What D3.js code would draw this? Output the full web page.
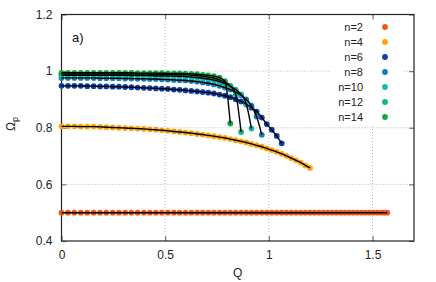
<!DOCTYPE html>
<html>
<head>
<meta charset="utf-8">
<script src="https://cdn.jsdelivr.net/npm/d3@7"></script>
<style>
  body { margin: 0; background: #fff; }
  svg { display: block; font-family: "Liberation Sans", Arial, sans-serif; }
</style>
</head>
<body>
<div id="chart"></div>
<script>
/**********************/
/******* data         */
/**********************/

// Q values of the sampled points (shared by all series)
const qGrid = [0, .031, .062, .093, .124, .155, .186, .216, .247, .277,
    .307, .337, .367, .397, .426, .455, .484, .513, .542, .570,
    .598, .626, .654, .681, .708, .735, .762, .788, .814, .840,
    .866, .891, .916, .941, .966, .990, 1.014, 1.038, 1.062, 1.085,
    1.108, 1.131, 1.154, 1.176, 1.198, 1.220, 1.242, 1.263, 1.284, 1.305,
    1.326, 1.347, 1.367, 1.387, 1.407, 1.427, 1.447, 1.466, 1.485, 1.504,
    1.523, 1.542, 1.557, 1.571];

const omegaN2 = [.5, .5, .5, .5, .5, .5, .5, .5, .5, .5,
    .5, .5, .5, .5, .5, .5, .5, .5, .5, .5,
    .5, .5, .5, .5, .5, .5, .5, .5, .5, .5,
    .5, .5, .5, .5, .5, .5, .5, .5, .5, .5,
    .5, .5, .5, .5, .5, .5, .5, .5, .5, .5,
    .5, .5, .5, .5, .5, .5, .5, .5, .5, .5,
    .5, .5, .5, .5];

const omegaN4 = [.805, .805, .805, .804, .804, .804, .803, .802, .801, .800,
    .799, .798, .797, .796, .794, .793, .791, .789, .787, .785,
    .783, .781, .778, .776, .773, .770, .767, .764, .760, .756,
    .752, .748, .743, .738, .733, .727, .721, .715, .708, .701,
    .693, .685, .677, .667, .658];

const omegaN6 = [.948, .948, .948, .948, .947, .947, .946, .946, .945, .945,
    .944, .943, .942, .941, .940, .939, .938, .937, .935, .934,
    .932, .930, .928, .926, .924, .921, .917, .913, .908, .901,
    .893, .883, .871, .857, .836, .813, .793, .771, .745];

const omegaN8 = [.976, .976, .976, .976, .976, .976, .975, .975, .975, .975,
    .974, .974, .973, .973, .972, .972, .971, .970, .969, .968,
    .967, .965, .963, .960, .957, .953, .948, .942, .935, .926,
    .915, .900, .878, .840, .775];

const omegaN10 = [.985, .985, .985, .985, .985, .985, .985, .985, .985, .985,
    .985, .984, .984, .984, .984, .983, .983, .983, .982, .982,
    .981, .979, .977, .975, .972, .968, .963, .956, .947, .935,
    .918, .885, .797];

const omegaN12 = [.990, .990, .990, .990, .990, .990, .990, .990, .990, .990,
    .990, .990, .990, .990, .989, .989, .989, .988, .988, .988,
    .987, .986, .984, .982, .979, .975, .969, .961, .948, .918,
    .785];

const omegaN14 = [.994, .994, .994, .994, .994, .994, .994, .994, .994, .994,
    .994, .994, .993, .993, .993, .993, .993, .992, .992, .992,
    .991, .990, .989, .987, .985, .982, .977, .965, .815];

const seriesNames = ["n=2", "n=4", "n=6", "n=8", "n=10", "n=12", "n=14"];
const seriesOmega = [omegaN2, omegaN4, omegaN6, omegaN8, omegaN10, omegaN12, omegaN14];
const seriesColors = ["#f4541c", "#ffa40c", "#0c3fa8", "#1580b4", "#1ab4b4", "#14b680", "#14a83e"];

const xTicks = [0, 0.5, 1, 1.5];
const yTicks = [0.4, 0.6, 0.8, 1, 1.2];
const gridX = [0.5, 1, 1.5];
const gridY = [0.6, 0.8, 1];

/**********************/
/******* d3           */
/**********************/

const width = 436, height = 282;
const margin = {top: 14.5, right: 22, bottom: 41, left: 61.5};

const svg = d3.select("#chart")
    .append("svg")
    .attr("width", width)
    .attr("height", height);

const x = d3.scaleLinear()
    .domain([0, 1.7])
    .range([margin.left, width - margin.right]);

const y = d3.scaleLinear()
    .domain([0.4, 1.2])
    .range([height - margin.bottom, margin.top]);

const series = seriesNames.map((name, i) => ({
    name: name,
    color: seriesColors[i],
    points: seriesOmega[i].map((v, j) => ({q: qGrid[j], w: v}))
}));

// dotted grid
const grid = svg.append("g").attr("class", "grid")
    .attr("stroke", "#b4b4b4")
    .attr("stroke-width", 1)
    .attr("stroke-dasharray", "1,2");

grid.selectAll(".gx")
    .data(gridX)
    .enter()
    .append("line")
    .attr("x1", d => x(d)).attr("x2", d => x(d))
    .attr("y1", y.range()[0]).attr("y2", y.range()[1]);

grid.selectAll(".gy")
    .data(gridY)
    .enter()
    .append("line")
    .attr("x1", x.range()[0]).attr("x2", x.range()[1])
    .attr("y1", d => y(d)).attr("y2", d => y(d));

// legend background hides the grid behind it
svg.append("rect")
    .attr("x", 331).attr("y", 16)
    .attr("width", 72).attr("height", 109)
    .attr("fill", "#fff");

// axes
function styleAxis(g) {
    g.select(".domain").remove();
    g.selectAll(".tick line").attr("stroke", "#777").attr("stroke-width", 1.2);
    g.selectAll(".tick text").attr("fill", "#222").style("font-size", "12px");
}

svg.append("g")
    .attr("transform", `translate(0, ${y.range()[0]})`)
    .call(d3.axisBottom(x).tickValues(xTicks).tickFormat(d3.format("")).tickSize(-5).tickPadding(9))
    .call(styleAxis);

svg.append("g")
    .attr("transform", `translate(0, ${y.range()[1]})`)
    .call(d3.axisTop(x).tickValues(xTicks).tickSize(-5).tickFormat(""))
    .call(styleAxis);

svg.append("g")
    .attr("transform", `translate(${x.range()[0]}, 0)`)
    .call(d3.axisLeft(y).tickValues(yTicks).tickFormat(d3.format("")).tickSize(-5).tickPadding(9))
    .call(styleAxis);

svg.append("g")
    .attr("transform", `translate(${x.range()[1]}, 0)`)
    .call(d3.axisRight(y).tickValues(yTicks).tickSize(-5).tickFormat(""))
    .call(styleAxis);

// frame
svg.append("rect")
    .attr("x", x.range()[0]).attr("y", y.range()[1])
    .attr("width", x.range()[1] - x.range()[0])
    .attr("height", y.range()[0] - y.range()[1])
    .attr("fill", "none")
    .attr("stroke", "#222")
    .attr("stroke-width", 1.2);

// points
const chart = svg.append("g").attr("class", "chart");

chart.selectAll(".series")
    .data(series)
    .enter()
    .append("g")
    .attr("class", "series")
    .attr("fill", d => d.color)
    .selectAll("circle")
    .data(d => d.points)
    .enter()
    .append("circle")
    .attr("cx", d => x(d.q))
    .attr("cy", d => y(d.w))
    .attr("r", 2.9);

// black curves on top
const line = d3.line()
    .x(d => x(d.q))
    .y(d => y(d.w))
    .curve(d3.curveMonotoneX);

chart.selectAll(".curve")
    .data(series)
    .enter()
    .append("path")
    .attr("class", "curve")
    .attr("d", d => line(d.points))
    .attr("fill", "none")
    .attr("stroke", "#000")
    .attr("stroke-width", 1.4);

// legend
const legend = svg.append("g").attr("class", "legend");

legend.selectAll("text")
    .data(series)
    .enter()
    .append("text")
    .attr("x", 363)
    .attr("y", (d, i) => 27 + i * 15)
    .attr("dy", "0.35em")
    .attr("text-anchor", "end")
    .attr("fill", "#222")
    .style("font-size", "11px")
    .text(d => d.name);

legend.selectAll("circle")
    .data(series)
    .enter()
    .append("circle")
    .attr("cx", 385)
    .attr("cy", (d, i) => 27 + i * 15)
    .attr("r", 2.9)
    .attr("fill", d => d.color);

// labels
svg.append("text")
    .attr("x", 72).attr("y", 42)
    .attr("fill", "#111")
    .style("font-size", "13px")
    .text("a)");

svg.append("text")
    .attr("x", (x.range()[0] + x.range()[1]) / 2)
    .attr("y", 277)
    .attr("text-anchor", "middle")
    .attr("fill", "#222")
    .style("font-size", "12px")
    .text("Q");

const yLabel = svg.append("text")
    .attr("transform", "translate(15, 124) rotate(-90)")
    .attr("text-anchor", "middle")
    .attr("fill", "#222")
    .style("font-size", "12px");
yLabel.append("tspan").text("Ω");
yLabel.append("tspan").attr("dy", "0.3em").style("font-size", "9px").text("p");
</script>
</body>
</html>
